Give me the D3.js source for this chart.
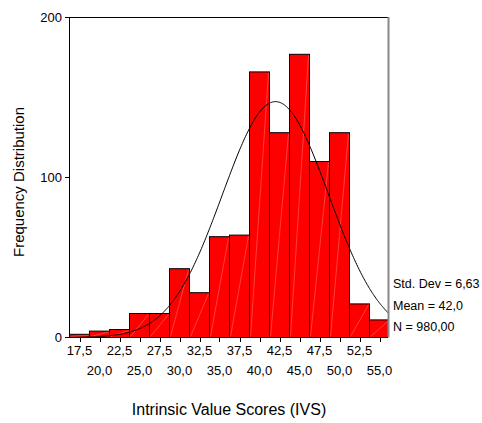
<!DOCTYPE html>
<html>
<head>
<meta charset="utf-8">
<script src="https://cdn.jsdelivr.net/npm/d3@7"></script>
<style>
  body { margin: 0; background: #fff; }
  text { font-family: "Liberation Sans", Arial, sans-serif; fill: #000; }
</style>
</head>
<body>
<div id="chart"></div>
<script>
// histogram data
var binCenters = [17.5, 20, 22.5, 25, 27.5, 30, 32.5, 35, 37.5, 40, 42.5, 45, 47.5, 50, 52.5, 55];
var counts = [2, 4, 5, 15, 15, 43, 28, 63, 64, 166, 128, 177, 110, 128, 21, 11];
var yTicks = [0, 100, 200];
var statLines = ["Std. Dev = 6,63", "Mean = 42,0", "N = 980,00"];
var stdDev = 6.63, mean = 42.0, nTotal = 980;
var binWidth = 2.5;

var svgWidth = 482;
var svgHeight = 423;

var svg = d3.select("#chart")
  .append("svg")
  .attr("width", svgWidth)
  .attr("height", svgHeight);

// plot area (don't call it "top", window.top is taken)
var plotLeft = 69.5, plotRight = 388, plotTop = 17.5, plotBottom = 337.5;

var xMin = binCenters[0] - binWidth / 2;
var xScale = d3.scaleLinear()
  .domain([xMin, xMin + (plotRight - plotLeft) / 8])
  .range([plotLeft, plotRight]);

var yScale = d3.scaleLinear()
  .domain([0, 200])
  .range([plotBottom, plotTop]);

svg.append("defs").append("clipPath")
  .attr("id", "plotClip")
  .append("rect")
  .attr("x", plotLeft)
  .attr("y", plotTop - 1)
  .attr("width", plotRight - plotLeft)
  .attr("height", plotBottom - plotTop + 2);

var plot = svg.append("g").attr("clip-path", "url(#plotClip)");

// bars
plot.selectAll("rect.bar")
  .data(binCenters)
  .enter()
  .append("rect")
  .attr("class", "bar")
  .attr("x", d => xScale(d - binWidth / 2))
  .attr("y", (d, i) => yScale(counts[i]))
  .attr("width", d => xScale(d + binWidth / 2) - xScale(d - binWidth / 2))
  .attr("height", (d, i) => plotBottom - yScale(counts[i]))
  .attr("fill", "#ff0000")
  .attr("stroke", "#000")
  .attr("stroke-width", 1);

// faint diagonal seams seen inside the bars
plot.selectAll("line.seam")
  .data(binCenters)
  .enter()
  .append("line")
  .attr("class", "seam")
  .attr("x1", d => xScale(d - binWidth / 2) + 1)
  .attr("y1", plotBottom - 1)
  .attr("x2", d => xScale(d + binWidth / 2) - 1)
  .attr("y2", (d, i) => yScale(counts[i]) + 1)
  .attr("stroke", "#fff")
  .attr("stroke-opacity", 0.35)
  .attr("stroke-width", 0.7);

// fitted normal curve from the stats shown
var peak = nTotal * binWidth / (stdDev * Math.sqrt(2 * Math.PI));
var curveXs = d3.range(xScale.domain()[0], xScale.domain()[1] + 0.1, 0.1);
var line = d3.line()
  .x(d => xScale(d))
  .y(d => yScale(peak * Math.exp(-0.5 * Math.pow((d - mean) / stdDev, 2))));

plot.append("path")
  .datum(curveXs)
  .attr("d", line)
  .attr("fill", "none")
  .attr("stroke", "#000")
  .attr("stroke-width", 1);

// frame: top black, right grey
svg.append("line")
  .attr("x1", 66).attr("x2", plotRight)
  .attr("y1", plotTop).attr("y2", plotTop)
  .attr("stroke", "#000");
svg.append("line")
  .attr("x1", plotRight + 0.5).attr("x2", plotRight + 0.5)
  .attr("y1", plotTop - 0.5).attr("y2", plotBottom)
  .attr("stroke", "#888")
  .attr("stroke-width", 2);

// y axis
svg.append("line")
  .attr("x1", plotLeft).attr("x2", plotLeft)
  .attr("y1", plotTop).attr("y2", plotBottom)
  .attr("stroke", "#000");

var yAxisG = svg.append("g");
yAxisG.selectAll("line")
  .data(yTicks)
  .enter()
  .append("line")
  .attr("x1", 65).attr("x2", plotLeft)
  .attr("y1", d => yScale(d)).attr("y2", d => yScale(d))
  .attr("stroke", "#000");
yAxisG.selectAll("text")
  .data(yTicks)
  .enter()
  .append("text")
  .attr("x", 62)
  .attr("y", d => yScale(d))
  .attr("dy", "0.35em")
  .attr("text-anchor", "end")
  .attr("font-size", "13px")
  .text(d => d);

// x axis
svg.append("line")
  .attr("x1", 66).attr("x2", plotRight)
  .attr("y1", plotBottom).attr("y2", plotBottom)
  .attr("stroke", "#000");

var fmt = d => d3.format(".1f")(d).replace(".", ",");

var xAxisG = svg.append("g");
xAxisG.selectAll("line")
  .data(binCenters)
  .enter()
  .append("line")
  .attr("x1", d => Math.round(xScale(d)) + 0.5)
  .attr("x2", d => Math.round(xScale(d)) + 0.5)
  .attr("y1", plotBottom).attr("y2", plotBottom + 4.5)
  .attr("stroke", "#000");
xAxisG.selectAll("text")
  .data(binCenters)
  .enter()
  .append("text")
  .attr("x", d => xScale(d))
  .attr("y", (d, i) => i % 2 === 0 ? 355 : 375)
  .attr("text-anchor", "middle")
  .attr("font-size", "13px")
  .text(d => fmt(d));

// stats text
svg.selectAll("text.stat")
  .data(statLines)
  .enter()
  .append("text")
  .attr("class", "stat")
  .attr("x", 393)
  .attr("y", (d, i) => 288 + i * 21.7)
  .attr("font-size", "12.5px")
  .text(d => d);

// axis titles
svg.append("text")
  .attr("x", 229)
  .attr("y", 415)
  .attr("text-anchor", "middle")
  .attr("font-size", "16px")
  .text("Intrinsic Value Scores (IVS)");

svg.append("text")
  .attr("transform", "translate(24, 182) rotate(-90)")
  .attr("text-anchor", "middle")
  .attr("font-size", "15px")
  .text("Frequency Distribution");
</script>
</body>
</html>
